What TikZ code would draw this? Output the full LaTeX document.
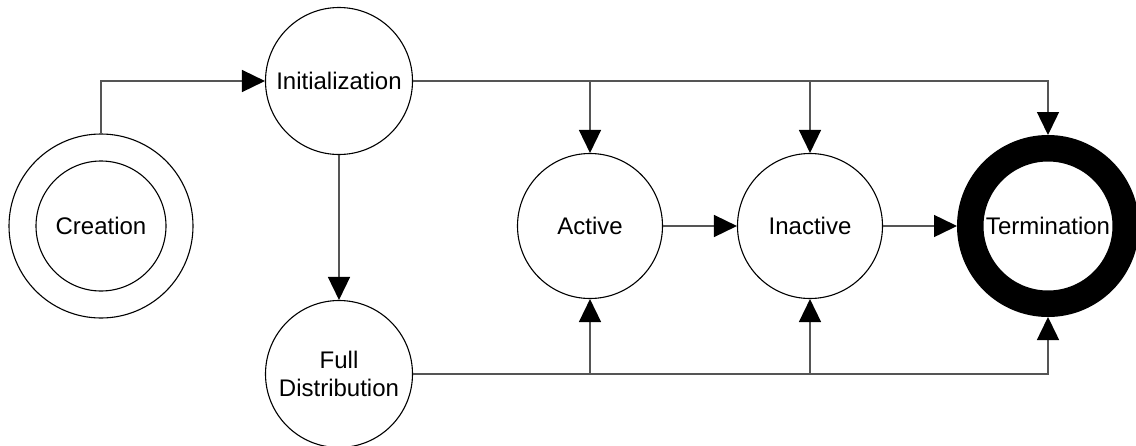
\documentclass[tikz,border=0pt]{standalone}
\usepackage{fontspec}
\setmainfont{Liberation Sans}
\usetikzlibrary{arrows.meta}
\definecolor{wire}{RGB}{85,85,85}
\begin{document}
\begin{tikzpicture}[x=1pt,y=-1pt,
  state/.style={circle,draw=black,line width=1.1pt,fill=white,
    minimum size=147pt,inner sep=0pt,align=center,
    font=\fontsize{24}{28}\selectfont},
  link/.style={draw=wire,line width=1.5pt,
    -{Triangle[length=23pt,width=22pt,color=black]}}]
\useasboundingbox (0,0) rectangle (1136,445);

% states
\node[circle,draw=black,line width=1.1pt,minimum size=184pt,inner sep=0pt] (crOut) at (101,226) {};
\node[state,minimum size=130pt] (cr) at (101,226) {Creation};
\node[state] (init) at (339,81) {Initialization};
\node[state] (full) at (339,374) {Full\\Distribution};
\node[state,minimum size=145pt] (act) at (590,226) {Active};
\node[state,minimum size=145pt] (inact) at (810,226) {Inactive};
\node[circle,draw=black,line width=26.5pt,fill=white,minimum size=155.5pt,
  inner sep=0pt,font=\fontsize{24}{28}\selectfont] (term) at (1048,226) {Termination};

% creation to initialization
\draw[link] (crOut.north) |- (init.west);

% initialization fan-out along the top
\draw[link] (init) -- (full);
\draw[link] (init.east) -| (term.north);
\draw[link] (init.east -| act.north) -- (act.north);
\draw[link] (init.east -| inact.north) -- (inact.north);

% full distribution fan-out along the bottom
\draw[link] (full.east) -| (term.south);
\draw[link] (full.east -| act.south) -- (act.south);
\draw[link] (full.east -| inact.south) -- (inact.south);

% horizontal chain
\draw[link] (act.east) -- (inact.west);
\draw[link] (inact.east) -- (term.west);
\end{tikzpicture}
\end{document}
